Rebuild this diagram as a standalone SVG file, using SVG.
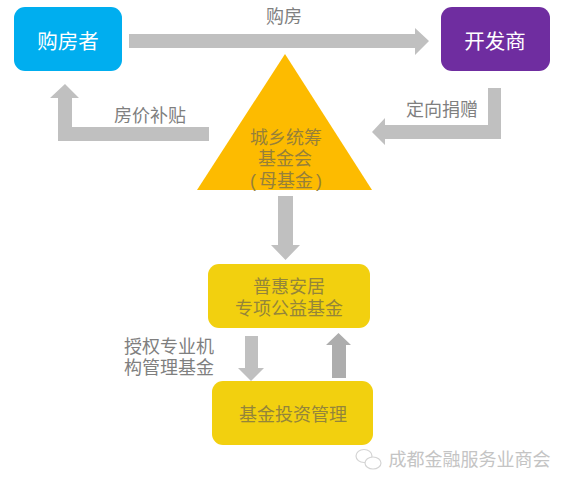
<svg xmlns="http://www.w3.org/2000/svg" width="568" height="487" viewBox="0 0 568 487">
<style>
text{font-family:"Liberation Sans","Noto Sans CJK SC",sans-serif;text-anchor:middle}
.a{fill:#c0c0c0}
.l{font-size:18px;fill:#7f7f7f}
.w{font-size:20.500px;fill:#fff}
.d{font-size:18px;fill:#94853a}
.t{font-size:18px;fill:#96803a}
.y{fill:#f2d00f}
</style>
<rect width="568" height="487" fill="#fff"/>
<g id="connectors">
<path id="c1" class="a" d="M129 34H415V28L429 41L415 55V48H129Z"/>
<path id="c2" class="a" d="M209 127H72V98H79L65 84L50 98H58V141H209Z"/>
<path id="c3" class="a" d="M488 88H501V139H385V145L372 132L385 118V125H488Z"/>
<path id="c4" class="a" d="M278 196H293V245H300L285.500 260L271 245H278Z"/>
<path id="c5" class="a" d="M245 336H258V368H264L251 381L238 368H245Z"/>
<path id="c6" fill="#adadad" d="M332 378V345H326L338.500 333L351 345H346V378Z"/>
</g>
<g id="buyer"><rect x="14" y="7" width="108" height="64" rx="11" fill="#00aeef"/><text class="w" x="68" y="49">购房者</text></g>
<g id="developer"><rect x="441" y="7" width="109" height="64" rx="11" fill="#6f2da0"/><text class="w" x="495" y="49">开发商</text></g>
<g id="fund"><path d="M285 54L372 190H197Z" fill="#fdbb00"/>
<text class="t" x="286" y="144">城乡统筹</text><text class="t" x="285" y="165">基金会</text><text class="t" x="286" y="187">(<tspan dx="3">母基金</tspan><tspan dx="3">)</tspan></text></g>
<g id="special"><rect x="208" y="264" width="162" height="64" rx="11" class="y"/>
<text class="d" x="289" y="293">普惠安居</text><text class="d" x="289" y="315">专项公益基金</text></g>
<g id="manage"><rect x="212" y="381" width="161" height="64" rx="11" class="y"/><text class="d" x="293" y="421">基金投资管理</text></g>
<g id="labels">
<text class="l" x="284" y="23">购房</text>
<text class="l" x="150" y="122">房价补贴</text>
<text class="l" x="442" y="116">定向捐赠</text>
<text class="l" x="169" y="353">授权专业机</text>
<text class="l" x="169" y="374">构管理基金</text>
</g>
<g id="watermark">
<ellipse cx="364" cy="456" rx="8" ry="6.500" fill="none" stroke="#d4d4d4" stroke-width="1.200"/>
<ellipse cx="373" cy="463" rx="8" ry="6" fill="#fff" stroke="#d4d4d4" stroke-width="1.200"/>
<text x="469.500" y="466" style="font-size:18px;fill:#c4c4c4">成都金融服务业商会</text>
</g>
</svg>
